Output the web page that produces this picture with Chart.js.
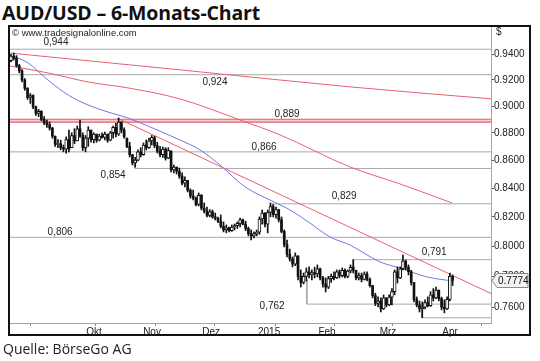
<!DOCTYPE html>
<html><head><meta charset="utf-8">
<script src="https://cdn.jsdelivr.net/npm/chart.js@4.4.1/dist/chart.umd.min.js"></script>
<style>
html,body{margin:0;padding:0;background:#fff;width:540px;height:361px;overflow:hidden;}
#title{position:absolute;left:2px;top:-1px;font:bold 19.5px "Open Sans";color:#111;white-space:nowrap;letter-spacing:-0.15px;}
#src{position:absolute;left:3px;top:339px;font:14px "Open Sans";color:#222;white-space:nowrap;}
#wrap{position:absolute;left:0;top:0;width:540px;height:361px;}
#box{position:absolute;left:8px;top:25px;width:519px;height:307px;border:2px solid #111;pointer-events:none;}
</style></head><body>
<div id="title">AUD/USD – 6-Monats-Chart</div>
<div id="wrap"><canvas id="c"></canvas></div>
<div id="box"></div>
<div id="src">Quelle: BörseGo AG</div>
<script>
// ---- daily candles (trading-day index 0 = early Sep 2014) ----
const open = [
.9350,.9385,.9370,.9310,.9270,.9200,.9135,.9065,.9080,.8995,
.8945,.8960,.8900,.8875,.8860,.8835,.8775,.8715,.8720,.8690,
.8680,.8750,.8690,.8780,.8740,.8830,.8780,.8690,.8760,.8820,
.8750,.8790,.8745,.8775,.8765,.8790,.8745,.8800,.8840,.8790,
.8880,.8820,.8760,.8700,.8640,.8580,.8600,.8660,.8640,.8710,
.8690,.8740,.8765,.8705,.8665,.8640,.8680,.8615,.8665,.8530,
.8550,.8520,.8485,.8435,.8455,.8385,.8345,.8330,.8285,.8350,
.8260,.8240,.8210,.8235,.8200,.8190,.8170,.8135,.8110,.8125,
.8105,.8130,.8140,.8155,.8180,.8150,.8120,.8085,.8070,.8085,
.8095,.8185,.8225,.8150,.8230,.8270,.8215,.8250,.8180,.8100,
.8010,.7945,.7915,.7880,.7935,.7800,.7760,.7800,.7830,.7810,
.7825,.7815,.7850,.7790,.7750,.7730,.7785,.7800,.7790,.7830,
.7805,.7840,.7800,.7835,.7860,.7840,.7790,.7805,.7780,.7815,
.7780,.7740,.7675,.7625,.7640,.7590,.7660,.7615,.7665,.7700,
.7830,.7790,.7850,.7900,.7860,.7830,.7760,.7650,.7615,.7590,
.7600,.7630,.7610,.7680,.7660,.7710,.7655,.7600,.7590,.7650,
.7800];
const high = [
.9400,.9410,.9390,.9320,.9280,.9210,.9140,.9095,.9085,.9000,
.8975,.8965,.8920,.8895,.8880,.8840,.8775,.8750,.8745,.8710,
.8770,.8820,.8800,.8830,.8850,.8895,.8800,.8780,.8845,.8820,
.8800,.8790,.8790,.8800,.8806,.8790,.8810,.8850,.8870,.8910,
.8880,.8836,.8760,.8730,.8640,.8620,.8674,.8690,.8725,.8747,
.8760,.8780,.8775,.8730,.8700,.8695,.8690,.8690,.8670,.8565,
.8550,.8543,.8508,.8480,.8455,.8395,.8387,.8338,.8366,.8355,
.8296,.8268,.8250,.8247,.8226,.8199,.8213,.8165,.8144,.8130,
.8144,.8150,.8165,.8192,.8185,.8170,.8130,.8110,.8097,.8110,
.8199,.8247,.8230,.8247,.8296,.8285,.8268,.8250,.8199,.8110,
.8042,.7980,.7928,.7955,.7935,.7842,.7822,.7855,.7862,.7842,
.7860,.7875,.7855,.7800,.7790,.7800,.7815,.7829,.7842,.7842,
.7855,.7850,.7842,.7875,.7910,.7840,.7822,.7822,.7829,.7829,
.7790,.7740,.7690,.7666,.7660,.7679,.7660,.7679,.7720,.7842,
.7862,.7862,.7941,.7908,.7875,.7840,.7760,.7666,.7640,.7634,
.7647,.7666,.7700,.7720,.7730,.7711,.7665,.7647,.7666,.7822,
.7809];
const low = [
.9340,.9355,.9300,.9255,.9185,.9120,.9050,.9020,.8980,.8930,
.8920,.8890,.8860,.8840,.8820,.8760,.8700,.8690,.8675,.8660,
.8650,.8660,.8690,.8720,.8740,.8765,.8670,.8660,.8700,.8730,
.8725,.8730,.8740,.8760,.8747,.8730,.8740,.8760,.8770,.8780,
.8800,.8760,.8690,.8623,.8565,.8550,.8595,.8623,.8635,.8674,
.8685,.8710,.8690,.8652,.8623,.8620,.8600,.8610,.8515,.8508,
.8500,.8470,.8422,.8408,.8373,.8330,.8317,.8275,.8275,.8247,
.8226,.8199,.8199,.8190,.8178,.8160,.8124,.8097,.8090,.8097,
.8100,.8110,.8120,.8130,.8144,.8105,.8070,.8042,.8056,.8070,
.8080,.8150,.8130,.8090,.8200,.8199,.8190,.8165,.8090,.7995,
.7928,.7900,.7862,.7870,.7776,.7730,.7750,.7770,.7790,.7776,
.7790,.7796,.7776,.7730,.7698,.7720,.7760,.7776,.7785,.7790,
.7796,.7790,.7790,.7822,.7822,.7776,.7776,.7763,.7776,.7770,
.7730,.7660,.7610,.7602,.7570,.7585,.7602,.7610,.7615,.7680,
.7756,.7785,.7842,.7842,.7809,.7743,.7634,.7602,.7570,.7533,
.7590,.7602,.7605,.7640,.7655,.7640,.7583,.7564,.7585,.7640,
.7740];
const close = [
.9385,.9370,.9310,.9270,.9200,.9135,.9065,.9080,.8995,.8945,
.8960,.8900,.8875,.8860,.8835,.8775,.8715,.8720,.8690,.8680,
.8750,.8680,.8780,.8740,.8830,.8780,.8690,.8760,.8820,.8750,
.8790,.8745,.8775,.8765,.8790,.8745,.8800,.8840,.8790,.8880,
.8820,.8770,.8700,.8640,.8580,.8600,.8660,.8640,.8710,.8690,
.8740,.8765,.8705,.8665,.8640,.8680,.8615,.8670,.8530,.8550,
.8520,.8485,.8435,.8455,.8385,.8345,.8330,.8285,.8350,.8260,
.8240,.8210,.8235,.8200,.8190,.8170,.8135,.8110,.8125,.8105,
.8130,.8140,.8155,.8180,.8150,.8120,.8085,.8070,.8085,.8095,
.8185,.8225,.8150,.8230,.8270,.8215,.8250,.8180,.8100,.8010,
.7945,.7915,.7880,.7935,.7800,.7760,.7800,.7830,.7810,.7825,
.7815,.7850,.7790,.7750,.7730,.7785,.7800,.7790,.7830,.7805,
.7840,.7800,.7835,.7860,.7840,.7790,.7805,.7780,.7815,.7780,
.7740,.7675,.7625,.7640,.7590,.7660,.7615,.7665,.7700,.7830,
.7790,.7850,.7900,.7860,.7830,.7760,.7650,.7615,.7590,.7600,
.7630,.7610,.7680,.7660,.7710,.7655,.7600,.7590,.7650,.7800,
.7774];

// ---- indicator lines (index, value) ----
const blueMaIdx = [0.7,6.2,13.4,20.7,27.9,35.1,42.4,50.4,61.2,68.5,75.7,83,86.6,93.8,101.1,108.3,115.6,122.8,133.7,140.9,150.7,160.1];
const blueMaVal = [0.9386,0.9332,0.9199,0.9084,0.9008,0.8955,0.8910,0.8843,0.8747,0.8674,0.8565,0.8436,0.8387,0.8317,0.8247,0.8157,0.8062,0.8008,0.7895,0.7855,0.7796,0.7769];
const redMaIdx = [-0.36,13.4,27.9,42.4,61.2,83,97.5,122.8,140.9,159.8];
const redMaVal = [0.9308,0.9254,0.9184,0.9138,0.9054,0.8895,0.8784,0.8551,0.8430,0.8296];
const longLineIdx = [-0.36,61.6,122.8,174.3];
const longLineVal = [0.9410,0.9277,0.9146,0.9054];
const trendIdx = [38.4,174.3];
const trendVal = [0.8910,0.7685];

// ---- horizontal support / resistance levels ----
const levelValues = [0.944,0.924,0.889,0.866,0.854,0.829,0.806,0.791,0.762,0.7533];
const levelTexts  = ['0,944','0,924','0,889','0,866','0,854','0,829','0,806','0,791','0,762',''];
const levelStartIdx = [null,null,null,null,44.9,94.6,null,123.9,107.2,148.9];
const levelAnchorVal = [null,null,null,null,0.8580,0.8220,null,0.7842,0.7776,0.7615];

// ---- axes ----
const yTicks = [0.76,0.78,0.80,0.82,0.84,0.86,0.88,0.90,0.92,0.94];
const monthStartIdx = [18.8,42.4,62,85.1,106.9,127.2,148.9];
const monthLabelIdx = [30.1,51.1,72.5,93.5,114.5,136.6,159.1];
const monthLabels = ['Okt','Nov','Dez','2015','Feb','Mrz','Apr'];

const X_MIN = -0.36, X_MAX = 173.9, Y_MIN = 0.75, Y_MAX = 0.9618;
const FONT = 'Liberation Sans';

const xTickVals = [], xTickText = [];
monthStartIdx.forEach(v=>{xTickVals.push(v); xTickText.push('');});
monthLabelIdx.forEach((v,k)=>{xTickVals.push(v); xTickText.push(monthLabels[k]);});

const pts = (xs, ys) => xs.map((x,k)=>({x:x, y:ys[k]}));
const datasets = [];

levelValues.forEach((v,k)=>{
  let data;
  if (levelStartIdx[k] === null) data = [{x:X_MIN,y:v},{x:X_MAX,y:v}];
  else data = [{x:levelStartIdx[k],y:levelAnchorVal[k]},{x:levelStartIdx[k],y:v},{x:X_MAX,y:v}];
  if (v === 0.889) {
    datasets.push({type:'line',data,borderColor:'#e2606e',borderWidth:4,pointRadius:0,order:20});
    datasets.push({type:'line',data,borderColor:'#f7cfd3',borderWidth:1.6,pointRadius:0,order:19});
  } else {
    datasets.push({type:'line',data,borderColor:'#a9a9a9',borderWidth:1,pointRadius:0,order:20});
  }
});
datasets.push({type:'line',data:pts(longLineIdx,longLineVal),borderColor:'#e8606e',borderWidth:1,pointRadius:0,order:15,cubicInterpolationMode:'monotone'});
datasets.push({type:'line',data:pts(redMaIdx,redMaVal),borderColor:'#e8606e',borderWidth:1,pointRadius:0,order:15,cubicInterpolationMode:'monotone'});
datasets.push({type:'line',data:pts(trendIdx,trendVal),borderColor:'#e8606e',borderWidth:1,pointRadius:0,order:15});
datasets.push({type:'line',data:pts(blueMaIdx,blueMaVal),borderColor:'#7676e6',borderWidth:1,pointRadius:0,order:15,cubicInterpolationMode:'monotone'});

// wicks
datasets.push({type:'bar',data:close.map((c,i)=>({x:i,y:[low[i],high[i]]})),backgroundColor:'#111',barThickness:1,grouped:false,order:6,borderWidth:0});
// falling candles: solid black body
datasets.push({type:'bar',data:close.map((c,i)=>({x:i,y:c<=open[i]?[c,open[i]]:null})),
  backgroundColor:'#111',borderWidth:0,barThickness:2,grouped:false,order:5});
// rising candles: hollow body
datasets.push({type:'bar',data:close.map((c,i)=>({x:i,y:c>open[i]?[open[i],c]:null})),
  backgroundColor:'#ffffff',borderColor:'#111',borderWidth:1,borderSkipped:false,barThickness:3,grouped:false,order:5});

const decor = {
  id:'decor',
  afterDatasetsDraw(chart){
    const {ctx, chartArea:a, scales:{x,y}} = chart;
    ctx.save();
    ctx.fillStyle = '#222';
    ctx.font = '9.5px "'+FONT+'"';
    ctx.textBaseline = 'middle';
    ctx.textAlign = 'left';
    ctx.fillText('\u00A9 www.tradesignalonline.com', a.left+2, a.top+6);
    const layout = [[16.3,-7],[73.9,8],[100,-6],[91.7,-5],[37,7],[120.7,-8],[17.8,-5],[153.3,-7],[94.6,2],null];
    ctx.font = '10px "'+FONT+'"';
    ctx.textAlign = 'center';
    levelTexts.forEach((t,k)=>{
      if (!t || !layout[k]) return;
      ctx.fillText(t, x.getPixelForValue(layout[k][0]), y.getPixelForValue(levelValues[k]) + layout[k][1]);
    });
    ctx.restore();
  },
  afterDraw(chart){
    const {ctx, chartArea:a, scales:{y}} = chart;
    ctx.save();
    ctx.fillStyle = '#222';
    ctx.font = '10px "'+FONT+'"';
    ctx.textBaseline = 'middle';
    ctx.textAlign = 'left';
    ctx.fillText('$', a.right+5, a.top+5);
    const last = close[close.length-1];
    const py = Math.round(y.getPixelForValue(last))+0.5;
    const L = a.right+1, R = a.right+37, h = 7;
    ctx.beginPath();
    ctx.moveTo(L, py);
    ctx.lineTo(L+5, py-h);
    ctx.lineTo(R, py-h);
    ctx.lineTo(R, py+h);
    ctx.lineTo(L+5, py+h);
    ctx.closePath();
    ctx.fillStyle = '#f3f3f3';
    ctx.fill();
    ctx.strokeStyle = '#8a8a8a';
    ctx.lineWidth = 1;
    ctx.stroke();
    ctx.fillStyle = '#111';
    ctx.fillText(last.toFixed(4), L+6, py+0.5);
    ctx.restore();
  }
};

new Chart(document.getElementById('c'), {
  type:'bar',
  data:{datasets},
  options:{
    responsive:true, maintainAspectRatio:false, animation:false, events:[],
    layout:{padding:{left:10, top:27, right:0, bottom:24}},
    plugins:{legend:{display:false}, tooltip:{enabled:false}},
    scales:{
      x:{type:'linear', min:X_MIN, max:X_MAX, offset:false,
        afterBuildTicks:s=>{ s.ticks = xTickVals.map(v=>({value:v})); },
        afterFit:s=>{ s.height = 14; },
        ticks:{autoSkip:false, maxRotation:0, minRotation:0, padding:0, color:'#222',
          font:{family:FONT, size:10}, callback:(v,i)=>xTickText[i]},
        grid:{drawOnChartArea:false, drawTicks:true, tickLength:3,
          tickColor:c=> xTickText[c.index] ? 'rgba(0,0,0,0)' : '#888'},
        border:{color:'#e58a95', width:1}
      },
      y:{type:'logarithmic', position:'right', min:Y_MIN, max:Y_MAX,
        afterBuildTicks:s=>{ s.ticks = yTicks.map(v=>({value:v})); },
        afterFit:s=>{ s.width = 49; },
        ticks:{autoSkip:false, padding:0, color:'#222', font:{family:FONT, size:10},
          callback:v=>Number(v).toFixed(4)},
        grid:{drawOnChartArea:false, drawTicks:true, tickLength:3, tickColor:'#555'},
        border:{color:'#e58a95', width:1}
      }
    }
  },
  plugins:[decor]
});
</script>
</body></html>
